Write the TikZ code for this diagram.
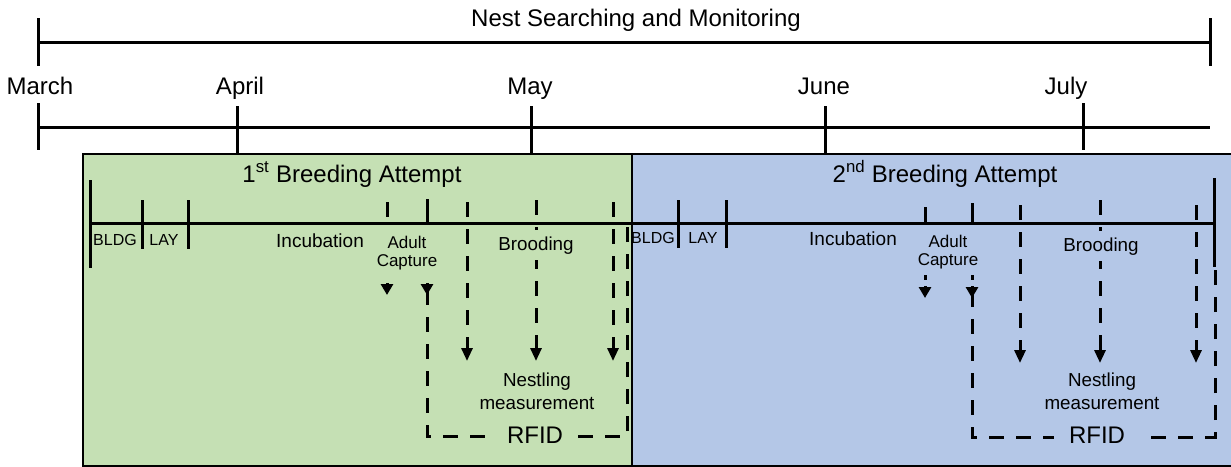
\documentclass[tikz,border=0pt]{standalone}
\usepackage{fontspec}
\setmainfont{Liberation Sans}
\usetikzlibrary{arrows.meta}
\definecolor{firstgreen}{HTML}{C5E0B4}
\definecolor{secondblue}{HTML}{B4C7E7}
\begin{document}
\begin{tikzpicture}[
  x=1pt, y=-1pt,
  line/.style={line width=3pt},
  dline/.style={line width=3pt, dash pattern=on 15pt off 12pt},
  arr/.style={dline, -{Triangle[length=13pt,width=11pt]}},
  head/.style={line width=3pt, -{Triangle[length=11pt,width=12pt]}},
  attempt/.style={draw, line width=2pt, anchor=north west, inner sep=0pt, minimum height=312pt},
  big/.style={font=\fontsize{24}{28}\selectfont, anchor=base},
  mid/.style={font=\fontsize{18.8}{23}\selectfont, align=center},
  small/.style={font=\fontsize{16}{18}\selectfont, anchor=base, inner sep=0pt},
  incu/.style={font=\fontsize{19}{22}\selectfont, anchor=base},
  capt/.style={font=\fontsize{17}{18}\selectfont, align=center}
]
\useasboundingbox (0,0) rectangle (1231,466);

% season
\node[big] (season) at (636,26) {Nest Searching and Monitoring};
\coordinate (s0) at (38,42);
\coordinate (s1) at (1210,42);
\draw[line] (s0) -- (s1);
\draw[line] (38,18) -- (38,66);
\draw[line] (1210,18) -- (1210,66);

% months
\node[big] (march) at (40,94) {March};
\node[big] (april) at (240,94) {April};
\node[big] (may) at (530,94) {May};
\node[big] (june) at (824,94) {June};
\node[big] (july) at (1066,94) {July};
\coordinate (m0) at (38,127);
\coordinate (m1) at (1210,127);
\draw[line] (m0) -- (m1);
\draw[line] (38,103) -- (38,150);
\draw[line] (237,106) -- (237,153);
\draw[line] (531,106) -- (531,153);
\draw[line] (825,106) -- (825,153);
\draw[line] (1083,103) -- (1083,150);

% attempts
\node[attempt, fill=firstgreen, minimum width=549pt] (first) at (82,153) {};
\node[attempt, fill=secondblue, minimum width=600pt] (second) at (631,153) {};
\node[big] (title1) at (352,182) {1\textsuperscript{st} Breeding Attempt};
\node[big] (title2) at (945,182) {2\textsuperscript{nd} Breeding Attempt};

% first attempt
\draw[line] (90,223) -- (631,223);
\draw[line] (90,180) -- (90,268);
\draw[line] (142,200) -- (142,249);
\draw[line] (188,200) -- (188,249);
\node[small] (bldg1) at (115,245) {BLDG};
\node[small] (lay1) at (164,245) {LAY};
\node[incu] (incu1) at (320,247) {Incubation};
\draw[dline] (387,202) -- (387,218);
\draw[line] (427,199) -- (427,223);
\node[capt] (capt1) at (407,253) {Adult\\Capture};
\draw[head] (387,283) -- (387,295);
\draw[head] (427,283) -- (427,295);
\draw[dline] (427,290) -- (427,436) -- (627,436) -- (627,223);
\node[big, fill=firstgreen, inner xsep=12pt, inner ysep=1pt] (rfid1) at (535,443) {RFID};
\coordinate (a1) at (467,202);
\coordinate (b1) at (536,200);
\coordinate (c1) at (613,202);
\draw[arr] (a1) -- (467,361);
\draw[arr] (b1) -- (536,361);
\draw[arr] (c1) -- (613,361);
\node[mid, fill=firstgreen, anchor=base, inner ysep=6pt] (brood1) at (536,250) {Brooding};
\node[mid] (meas1) at (537,391) {Nestling\\measurement};

% second attempt
\draw[line] (625,223) -- (1214,223);
\draw[line] (1214,178) -- (1214,267);
\draw[line] (678,200) -- (678,248);
\draw[line] (726,200) -- (726,248);
\node[small] (bldg2) at (653,243) {BLDG};
\node[small] (lay2) at (703,243) {LAY};
\node[incu] (incu2) at (853,245) {Incubation};
\draw[dline] (925,207) -- (925,222);
\draw[line] (972,203) -- (972,223);
\node[capt] (capt2) at (948,252) {Adult\\Capture};
\draw[line] (925,275) -- (925,280);
\draw[line] (972,275) -- (972,280);
\draw[head] (925,286) -- (925,298);
\draw[head] (972,286) -- (972,298);
\draw[dline] (972,292) -- (972,437) -- (1215,437) -- (1215,267);
\node[big, fill=secondblue, inner xsep=15pt, inner ysep=1pt] (rfid2) at (1097,443) {RFID};
\coordinate (a2) at (1020,205);
\coordinate (b2) at (1100,200);
\coordinate (c2) at (1196,205);
\draw[arr] (a2) -- (1020,363);
\draw[arr] (b2) -- (1100,363);
\draw[arr] (c2) -- (1196,363);
\node[mid, fill=secondblue, anchor=base, inner ysep=6pt] (brood2) at (1101,251) {Brooding};
\node[mid] (meas2) at (1102,391) {Nestling\\measurement};
\end{tikzpicture}
\end{document}
